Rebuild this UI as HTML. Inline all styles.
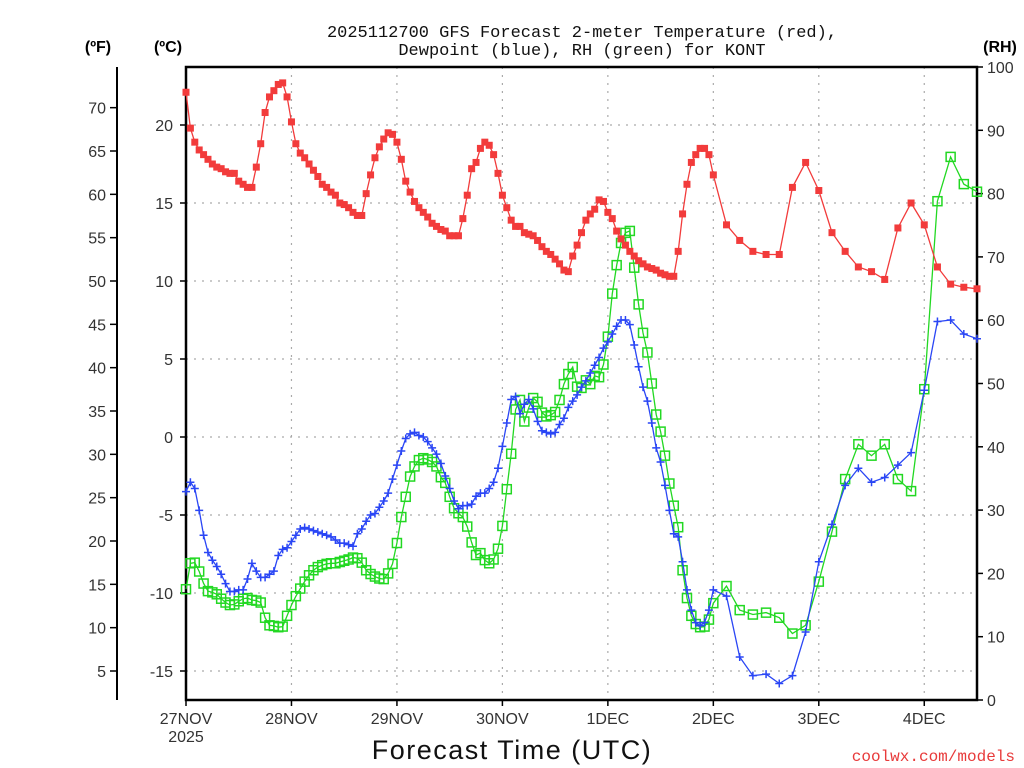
<!DOCTYPE html>
<html><head><meta charset="utf-8"><style>
html,body{margin:0;padding:0;background:#fff;}
svg{display:block;font-family:"Liberation Sans",sans-serif;}
</style></head><body>
<svg id="chart" width="1024" height="768" viewBox="0 0 1024 768" xmlns="http://www.w3.org/2000/svg">
<text x="582" y="37" text-anchor="middle" font-size="17" fill="#111" font-family="Liberation Mono, monospace">2025112700 GFS Forecast 2-meter Temperature (red),</text>
<text x="582" y="55" text-anchor="middle" font-size="17" fill="#111" font-family="Liberation Mono, monospace">Dewpoint (blue), RH (green) for KONT</text>
<text x="98" y="52" text-anchor="middle" font-size="16" font-weight="bold">(ºF)</text>
<text x="168" y="52" text-anchor="middle" font-size="16" font-weight="bold">(ºC)</text>
<text x="1000" y="52" text-anchor="middle" font-size="16" font-weight="bold">(RH)</text>
<text x="512" y="759" text-anchor="middle" font-size="27" letter-spacing="1.5" fill="#111">Forecast Time (UTC)</text>
<text x="1015" y="761" text-anchor="end" font-size="16" fill="#e83a3a" font-family="Liberation Mono, monospace">coolwx.com/models</text>
<g id="grid"></g><g id="axes"></g><g id="series"></g>
</svg>
<script>
const tempC = [22.1,19.8,18.9,18.4,18.1,17.8,17.5,17.3,17.2,17.0,16.9,16.9,16.4,16.2,16.0,16.0,17.3,18.8,20.8,21.8,22.2,22.6,22.7,21.8,20.2,18.8,18.2,17.9,17.5,17.1,16.7,16.2,16.0,15.7,15.5,15.0,14.9,14.7,14.4,14.2,14.2,15.6,16.8,17.9,18.6,19.1,19.5,19.4,18.9,17.8,16.4,15.7,15.1,14.7,14.4,14.1,13.7,13.5,13.3,13.2,12.9,12.9,12.9,14.0,15.5,17.2,17.6,18.5,18.9,18.7,18.1,16.9,15.5,14.7,13.9,13.5,13.5,13.1,13.0,12.9,12.6,12.2,11.9,11.7,11.4,11.1,10.7,10.6,11.6,12.3,13.1,13.9,14.3,14.6,15.2,
15.1,14.4,14.0,13.2,12.7,12.3,11.9,11.6,11.3,11.1,10.9,10.8,10.7,10.5,10.4,10.3,10.3,
11.9,14.3,16.2,17.6,18.1,18.5,18.5,18.1,16.8,
13.6,12.6,11.9,11.7,11.7,16.0,17.6,15.8,13.1,11.9,10.9,10.6,10.1,13.4,15.0,13.6,10.9,9.8,9.6,9.5];
const dewC = [-3.5,-2.9,-3.3,-4.7,-6.3,-7.4,-7.9,-8.3,-8.8,-9.4,-9.9,-9.9,-9.8,-9.8,-9.1,-8.1,-8.6,-9.0,-9.0,-8.8,-8.6,-7.6,-7.2,-7.1,-6.7,-6.3,-5.9,-5.8,-5.9,-6.0,-6.1,-6.2,-6.3,-6.4,-6.6,-6.8,-6.8,-6.9,-7.0,-6.2,-5.9,-5.4,-5.0,-4.9,-4.5,-4.1,-3.6,-2.7,-1.8,-0.9,-0.1,0.2,0.3,0.1,0.0,-0.3,-0.7,-1.1,-1.7,-2.5,-3.3,-4.1,-4.6,-4.4,-4.4,-4.3,-3.8,-3.6,-3.6,-3.3,-2.9,-2.0,-0.6,0.9,2.4,2.6,1.5,2.1,2.4,1.8,1.0,0.4,0.3,0.2,0.3,0.8,1.2,1.9,2.3,
2.7,3.2,3.6,4.1,
4.6,5.1,5.7,6.1,6.6,7.1,7.5,7.5,7.2,5.9,4.5,3.2,2.3,0.9,-0.7,-1.6,-3.1,-4.7,-6.2,-6.4,-8.0,-9.8,-11.1,-11.9,-12.1,-11.9,-11.1,-9.8,
-10.2,-14.1,-15.3,-15.2,-15.8,-15.3,-12.5,-8.0,-5.6,-3.1,-2.0,-2.9,-2.6,-1.8,-1.0,3.0,7.4,7.5,6.6,6.3];
const rhPct = [17.5,21.6,21.7,20.3,18.4,17.2,17.0,16.7,16.0,15.4,15.0,15.1,15.6,16.0,16.1,15.8,15.7,15.4,13.0,11.8,11.7,11.5,11.6,13.3,15.0,16.4,17.6,18.7,19.7,20.5,21.0,21.3,21.5,21.6,21.6,21.8,22.0,22.2,22.5,22.4,21.7,20.5,19.9,19.5,19.2,19.1,20.0,21.5,24.8,28.9,32.1,35.3,36.9,37.9,38.2,38.0,37.6,36.9,35.2,34.3,32.1,30.3,29.5,28.9,27.4,24.9,22.9,23.2,22.1,21.6,22.2,23.9,27.5,33.3,38.9,45.9,47.4,44.0,46.2,47.7,47.1,45.4,44.8,45.0,45.5,47.4,49.9,
51.5,52.6,49.5,49.3,50.5,
49.9,51.2,51.0,53.0,57.4,64.2,68.7,72.2,73.8,74.1,68.3,62.5,58.0,54.9,50.0,45.1,42.4,38.6,34.2,30.7,27.3,20.5,16.1,13.3,12.0,11.5,11.6,12.7,15.3,
18.0,14.2,13.5,13.8,13.0,10.5,11.8,18.7,26.6,34.9,40.4,38.6,40.4,34.9,33.0,49.1,78.8,85.8,81.5,80.3];
const dayLabels = ["27NOV","28NOV","29NOV","30NOV","1DEC","2DEC","3DEC","4DEC"];
const cTicks = [20,15,10,5,0,-5,-10,-15];
const fTicks = [70,65,60,55,50,45,40,35,30,25,20,15,10,5];
const rhTicks = [0,10,20,30,40,50,60,70,80,90,100];

const hours = [];
for (let h = 0; h <= 120; h++) hours.push(h);
for (let h = 123; h <= 180; h += 3) hours.push(h);

const X0 = 186, X1 = 977, Y0 = 67, Y1 = 700;
const xOf = h => X0 + (h / 180) * (X1 - X0);
const yC = c => 437 - 15.6 * c;
const yF = f => yC((f - 32) * 5 / 9);
const yRH = r => Y1 - (r / 100) * (Y1 - Y0);
const NS = "http://www.w3.org/2000/svg";
function mk(tag, attrs, parent) {
  const e = document.createElementNS(NS, tag);
  for (const k in attrs) e.setAttribute(k, attrs[k]);
  parent.appendChild(e);
  return e;
}
const grid = document.getElementById('grid');
const axes = document.getElementById('axes');
const series = document.getElementById('series');

cTicks.forEach(c => {
  const l = mk('line', {x1: X0, x2: X1, y1: yC(c), y2: yC(c), stroke: '#aaa', 'stroke-width': 1.2, 'stroke-dasharray': '2,6'}, grid);
  
  
  mk('line', {x1: X0 - 6, x2: X0, y1: yC(c), y2: yC(c), stroke: '#000', 'stroke-width': 1.5}, axes);
  const t = mk('text', {x: 173, y: yC(c) + 6, 'text-anchor': 'end', 'font-size': 16, fill: '#333'}, axes);
  t.textContent = c;
  
  
});
dayLabels.forEach((d, i) => {
  const x = xOf(i * 24);
  if (i > 0) {
    const l = mk('line', {x1: x, x2: x, y1: Y0, y2: Y1, stroke: '#aaa', 'stroke-width': 1.2, 'stroke-dasharray': '2,6'}, grid);
    
    
  }
  mk('line', {x1: x, x2: x, y1: Y1, y2: Y1 + 6, stroke: '#000', 'stroke-width': 1.5}, axes);
  const t = mk('text', {x: x, y: 724, 'text-anchor': 'middle', 'font-size': 16, fill: '#333'}, axes);
  t.textContent = d;
  
  
});
const yr = mk('text', {x: xOf(0), y: 742, 'text-anchor': 'middle', 'font-size': 16, fill: '#333'}, axes);
yr.textContent = '2025';



fTicks.forEach(f => {
  mk('line', {x1: 110, x2: 117, y1: yF(f), y2: yF(f), stroke: '#000', 'stroke-width': 1.5}, axes);
  const t = mk('text', {x: 106, y: yF(f) + 6, 'text-anchor': 'end', 'font-size': 16, fill: '#333'}, axes);
  t.textContent = f;
  
  
});
rhTicks.forEach(r => {
  mk('line', {x1: X1, x2: X1 + 6, y1: yRH(r), y2: yRH(r), stroke: '#000', 'stroke-width': 1.5}, axes);
  const t = mk('text', {x: 987, y: yRH(r) + 6, 'text-anchor': 'start', 'font-size': 16, fill: '#333'}, axes);
  t.textContent = r;
  
  
});
const fAxis = mk('line', {x1: 117, x2: 117, y1: Y0, y2: Y1, stroke: '#000', 'stroke-width': 2}, axes);


const frame = mk('rect', {x: X0, y: Y0, width: X1 - X0, height: Y1 - Y0, fill: 'none', stroke: '#000', 'stroke-width': 2.5}, axes);



function drawSeries(vals, yfn, color, kind, name) {
  const n = Math.min(vals.length, hours.length);
  const g = mk('g', {}, series);
  
  
  let d = '';
  for (let i = 0; i < n; i++) d += (i ? 'L' : 'M') + xOf(hours[i]).toFixed(1) + ',' + yfn(vals[i]).toFixed(1);
  mk('path', {d: d, fill: 'none', stroke: color, 'stroke-width': 1.3}, g);
  for (let i = 0; i < n; i++) {
    const x = xOf(hours[i]), y = yfn(vals[i]);
    let m;
    if (kind === 'fill') m = mk('rect', {x: x - 3.5, y: y - 3.5, width: 7, height: 7, fill: color}, g);
    else if (kind === 'open') m = mk('rect', {x: x - 4.5, y: y - 4.5, width: 9, height: 9, fill: 'none', stroke: color, 'stroke-width': 1.5}, g);
    else m = mk('path', {d: `M${x-4},${y}H${x+4}M${x},${y-4}V${y+4}`, stroke: color, 'stroke-width': 1.5}, g);
    
    
  }
}
drawSeries(rhPct, yRH, '#22d822', 'open', 'rh-series');
drawSeries(dewC, yC, '#2a46f5', 'plus', 'dewpoint-series');
drawSeries(tempC, yC, '#f23b3b', 'fill', 'temperature-series');
</script>
</body></html>
